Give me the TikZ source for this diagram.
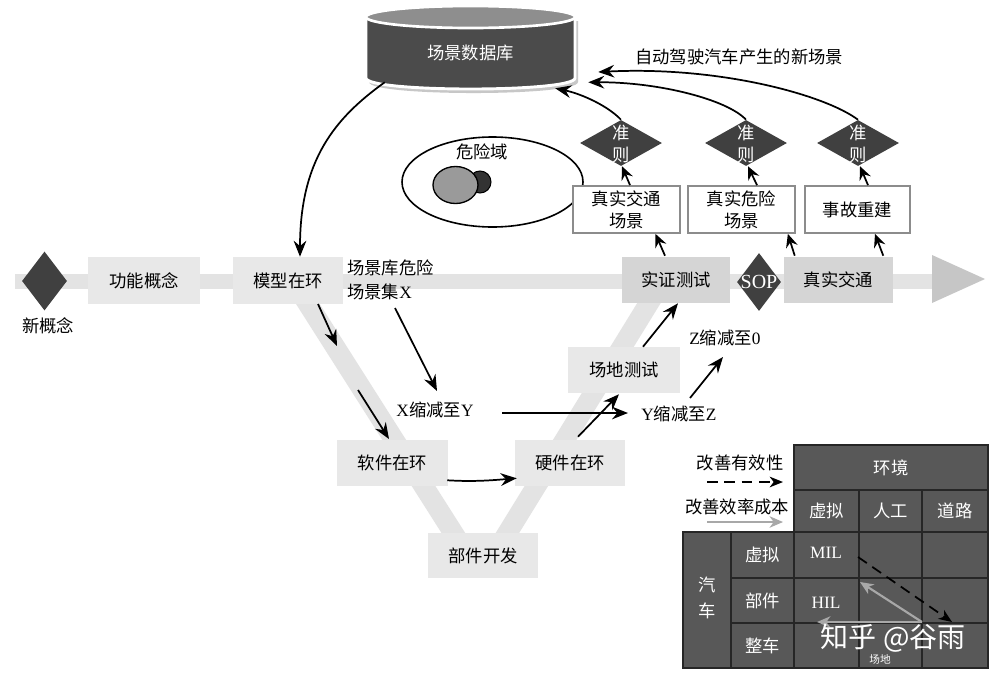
\documentclass[tikz,border=0pt]{standalone}
\usepackage{fontspec}
\setmainfont{Noto Sans CJK SC}
\newfontfamily\lat{Liberation Serif}
\usetikzlibrary{arrows.meta,shapes.geometric,calc}
\definecolor{boxlight}{HTML}{E8E8E8}
\definecolor{boxdark}{HTML}{D5D5D5}
\definecolor{bandcol}{HTML}{E3E3E3}
\definecolor{headcol}{HTML}{C6C6C6}
\definecolor{diacol}{HTML}{404040}
\definecolor{rulegray}{HTML}{8C8C8C}
\definecolor{dbbody}{HTML}{4B4B4B}
\definecolor{dbtop}{HTML}{8E8E8E}
\definecolor{cellcol}{HTML}{585858}
\definecolor{effgray}{HTML}{A8A8A8}
\definecolor{hazgray}{HTML}{9A9A9A}
\definecolor{hazdark}{HTML}{333333}
\begin{document}
\begin{tikzpicture}[x=0.75pt,y=-0.75pt,
  box/.style={fill=boxlight, inner sep=0pt, font=\fontsize{13}{16}\selectfont},
  boxd/.style={box, fill=boxdark},
  rulebox/.style={draw=rulegray, line width=1.3pt, fill=white, align=center, inner sep=0pt, font=\fontsize{13}{16.5}\selectfont},
  dia/.style={diamond, fill=diacol, inner sep=0pt},
  diatext/.style={text=white, align=center, inner sep=0pt, font=\fontsize{13}{16.5}\selectfont},
  arr/.style={-{Stealth[length=12pt,width=9.5pt,inset=4pt]}, line width=1.3pt},
  sarr/.style={-{Stealth[length=10pt,width=9pt,inset=3.5pt]}, line width=1.3pt},
  lbl/.style={font=\fontsize{13}{16}\selectfont, inner sep=0pt},
  cellbox/.style={fill=cellcol, draw=black!85, line width=1.1pt},
  celltext/.style={text=white, inner sep=0pt, font=\fontsize{13}{16}\selectfont},
  latcell/.style={text=white, inner sep=0pt, font=\lat\fontsize{13}{16}\selectfont},
  effarrow/.style={draw=effgray, line width=1.6pt, -{Stealth[length=10pt,width=8.5pt,inset=3pt]}},
  validarrow/.style={draw=black, line width=1.3pt, dash pattern=on 8pt off 5pt, -{Stealth[length=10pt,width=8pt,inset=3pt]}}
]
\useasboundingbox (0,0) rectangle (1000,682);
\fill[white] (0,0) rectangle (1000,682);

% ---------- bands ----------
\draw[bandcol, line width=11.25pt] (15,281) -- (934,281);
\fill[headcol] (932,255) -- (985,279) -- (932,303) -- cycle;
\draw[bandcol, line width=15pt] (299,290) -- (461,545);
\draw[bandcol, line width=15pt] (500,545) -- (657,290);

% ---------- database ----------
\fill[black!22] (369,21) -- (369,82) .. controls (369,96.7) and (578,96.7) .. (578,82) -- (578,21) -- cycle;
\path[fill=dbbody, draw=white, line width=2.2pt] (366,17) -- (366,78) .. controls (366,92.7) and (575,92.7) .. (575,78) -- (575,17) -- cycle;
\path[fill=dbtop, draw=white, line width=2pt] (470.5,17) ellipse [x radius=78.4pt, y radius=8.25pt];
\node[inner sep=0pt, minimum width=156.75pt, minimum height=62.25pt] (db) at (470.5,47.5) {};
\node[text=white, inner sep=0pt, font=\fontsize{13}{16}\selectfont] (dbt) at (470.5,53) {场景数据库};

% ---------- hazard domain ----------
\node[ellipse, draw, line width=1.2pt, inner sep=0pt, minimum width=135.75pt, minimum height=67.5pt] (dz) at (492.5,182) {};
\node[lbl] (dzt) at (482,152) {危险域};
\node[circle, fill=hazdark, draw=black, line width=0.8pt, minimum size=16.5pt, inner sep=0pt] (hz2) at (480,182) {};
\node[ellipse, fill=hazgray, draw=black, line width=1pt, minimum width=33.75pt, minimum height=27.75pt, inner sep=0pt] (hz1) at (455.5,185) {};

% ---------- main line ----------
\node[dia, minimum width=33.75pt, minimum height=44.25pt] (nc) at (44.5,281) {};
\node[lbl] (nct) at (48,326) {新概念};
\node[box, minimum width=84pt, minimum height=35.25pt] (fn) at (144,280.5) {功能概念};
\node[box, minimum width=82.5pt, minimum height=35.25pt] (mil) at (288,280.5) {模型在环};
\node[lbl, align=left, anchor=west, font=\fontsize{13}{18}\selectfont] (sx) at (347,280) {场景库危险\\场景集{\lat X}};
\node[boxd, minimum width=81pt, minimum height=34.5pt] (sz) at (676,280) {实证测试};
\node[dia, minimum width=33pt, minimum height=43.5pt] (sop) at (759,282) {};
\node[text=white, inner sep=0pt, font=\lat\fontsize{15}{17}\selectfont] (sopt) at (759,282) {SOP};
\node[boxd, minimum width=81.75pt, minimum height=34.5pt] (zt) at (838.5,280) {真实交通};

% ---------- V ----------
\node[box, minimum width=83.25pt, minimum height=34.5pt] (sil) at (392.5,463) {软件在环};
\node[box, minimum width=82.5pt, minimum height=34.5pt] (hil) at (570,463) {硬件在环};
\node[box, minimum width=82.5pt, minimum height=33.75pt] (bj) at (483,555.5) {部件开发};
\node[box, minimum width=84pt, minimum height=34.5pt] (cd) at (624,370) {场地测试};

\node[lbl] (xy) at (435,410) {{\lat X}缩减至{\lat Y}};
\node[lbl] (yz) at (679,414) {{\lat Y}缩减至{\lat Z}};
\node[lbl] (z0) at (725,338) {{\lat Z}缩减至{\lat 0}};

\coordinate (a2s) at (318,304);
\coordinate (a2e) at (337,346);
\coordinate (a3s) at (358,390);
\coordinate (a3e) at (389,439);
\coordinate (a4s) at (395,308);
\coordinate (a4e) at (437,391);
\coordinate (a5s) at (502,413);
\coordinate (a5e) at (628,413);
\coordinate (a9s) at (690,398);
\coordinate (a9e) at (723,357);

\draw[arr] (a2s) -- (a2e);
\draw[arr] (a3s) -- (a3e);
\draw[arr] (a4s) -- (a4e);
\draw[arr] (a5s) -- (a5e);
\draw[arr] (a9s) -- (a9e);
\draw[arr] ($(sil.south east)+(-1,-6)$) .. controls (475,482) and (495,480) .. ($(hil.south west)+(2,-8)$);
\draw[arr] ($(hil.north)+(8,-3)$) -- ($(cd.south)+(-5,1)$);
\draw[arr] ($(cd.north)+(19,0)$) -- ($(sz.south)+(2,0)$);

% ---------- rules ----------
\node[rulebox, minimum width=80.25pt, minimum height=35.25pt] (r1) at (626.5,209.5) {真实交通\\场景};
\node[rulebox, minimum width=80.25pt, minimum height=35.25pt] (r2) at (741.5,209.5) {真实危险\\场景};
\node[rulebox, minimum width=78.75pt, minimum height=35.25pt] (r3) at (857.5,209.5) {事故重建};

\node[dia, minimum width=61.5pt, minimum height=34.5pt] (d1) at (621,143) {};
\node[dia, minimum width=61.5pt, minimum height=34.5pt] (d2) at (746,143) {};
\node[dia, minimum width=61.5pt, minimum height=34.5pt] (d3) at (858,143) {};
\node[diatext] (d1t) at (621,144) {准\\则};
\node[diatext] (d2t) at (746,144) {准\\则};
\node[diatext] (d3t) at (858,144) {准\\则};

\draw[sarr] ($(sz.north)+(-11,-1)$) -- ($(r1.south)+(29,0)$);
\draw[sarr] ($(zt.north west)+(11,-1)$) -- ($(r2.south east)+(-8,0)$);
\draw[sarr] ($(zt.north east)+(-10,-1)$) -- ($(r3.south)+(17.5,0)$);
\draw[sarr] ($(r1.north)+(3.5,0)$) -- ($(d1.south)+(1,0)$);
\draw[sarr] ($(r2.north)+(15.5,0)$) -- ($(d2.south)+(2,0)$);
\draw[sarr] ($(r3.north)+(10.5,0)$) -- ($(d3.south)+(2,0)$);

\draw[arr] (d1.north) .. controls (608,106) and (582,94) .. ($(db.south east)+(-20,-1)$);
\draw[arr] (d2.north) .. controls (728,100) and (660,82) .. ($(db.south east)+(13,-7)$);
\draw[arr] (d3.north) .. controls (825,95) and (720,66) .. ($(db.east)+(23,24.5)$);
\node[lbl] (newsc) at (739,57) {自动驾驶汽车产生的新场景};

\draw[arr] ($(db.south west)+(19,-7)$) .. controls (335,118) and (300,160) .. ($(mil.north)+(12,0)$);

% ---------- table ----------
\foreach \xa/\xb in {794/859,859/922,922/988}
  \foreach \ya/\yb in {490/532,532/578,578/623,623/668}
    \filldraw[cellbox] (\xa,\ya) rectangle (\xb,\yb);
\filldraw[cellbox] (794,445) rectangle (988,490);
\filldraw[cellbox] (683,532) rectangle (731,668);
\foreach \ya/\yb in {532/578,578/623,623/668}
  \filldraw[cellbox] (731,\ya) rectangle (794,\yb);

\node[celltext] (env) at (891,467.5) {环境};
\node[celltext] (cv) at (826.5,511) {虚拟};
\node[celltext] (cm) at (890.5,511) {人工};
\node[celltext] (cr) at (955,511) {道路};
\node[celltext, align=center, font=\fontsize{13}{19}\selectfont] (car) at (707,598) {汽\\车};
\node[celltext] (rv) at (762.5,555) {虚拟};
\node[celltext] (rp) at (762.5,600.5) {部件};
\node[celltext] (rz) at (762.5,645.5) {整车};
\node[latcell] (milt) at (826,553) {MIL};
\node[latcell] (hilt) at (826,603) {HIL};
\node[text=white, inner sep=0pt, font=\fontsize{8}{9}\selectfont] (cdt) at (880,659) {场地};

\coordinate (ta) at (858,557);
\coordinate (tb) at (952,622);
\coordinate (tc) at (922,622);
\coordinate (td) at (860,582);
\coordinate (te) at (817,622);
\draw[validarrow] (ta) -- (tb);
\draw[effarrow] (tc) -- (td);
\draw[effarrow] (tc) -- (te);

\node[lbl] (leg1) at (740,463) {改善有效性};
\node[lbl] (leg2) at (737,507) {改善效率成本};
\coordinate (l1a) at (707,482);
\coordinate (l1b) at (783,482);
\coordinate (l2a) at (707,522);
\coordinate (l2b) at (783,522);
\draw[validarrow] (l1a) -- (l1b);
\draw[effarrow] (l2a) -- (l2b);

\node[text=white, inner sep=0pt, font=\fontsize{21}{24}\selectfont] (wm) at (893,638) {知乎\hspace{5pt}@谷雨};
\end{tikzpicture}
\end{document}
